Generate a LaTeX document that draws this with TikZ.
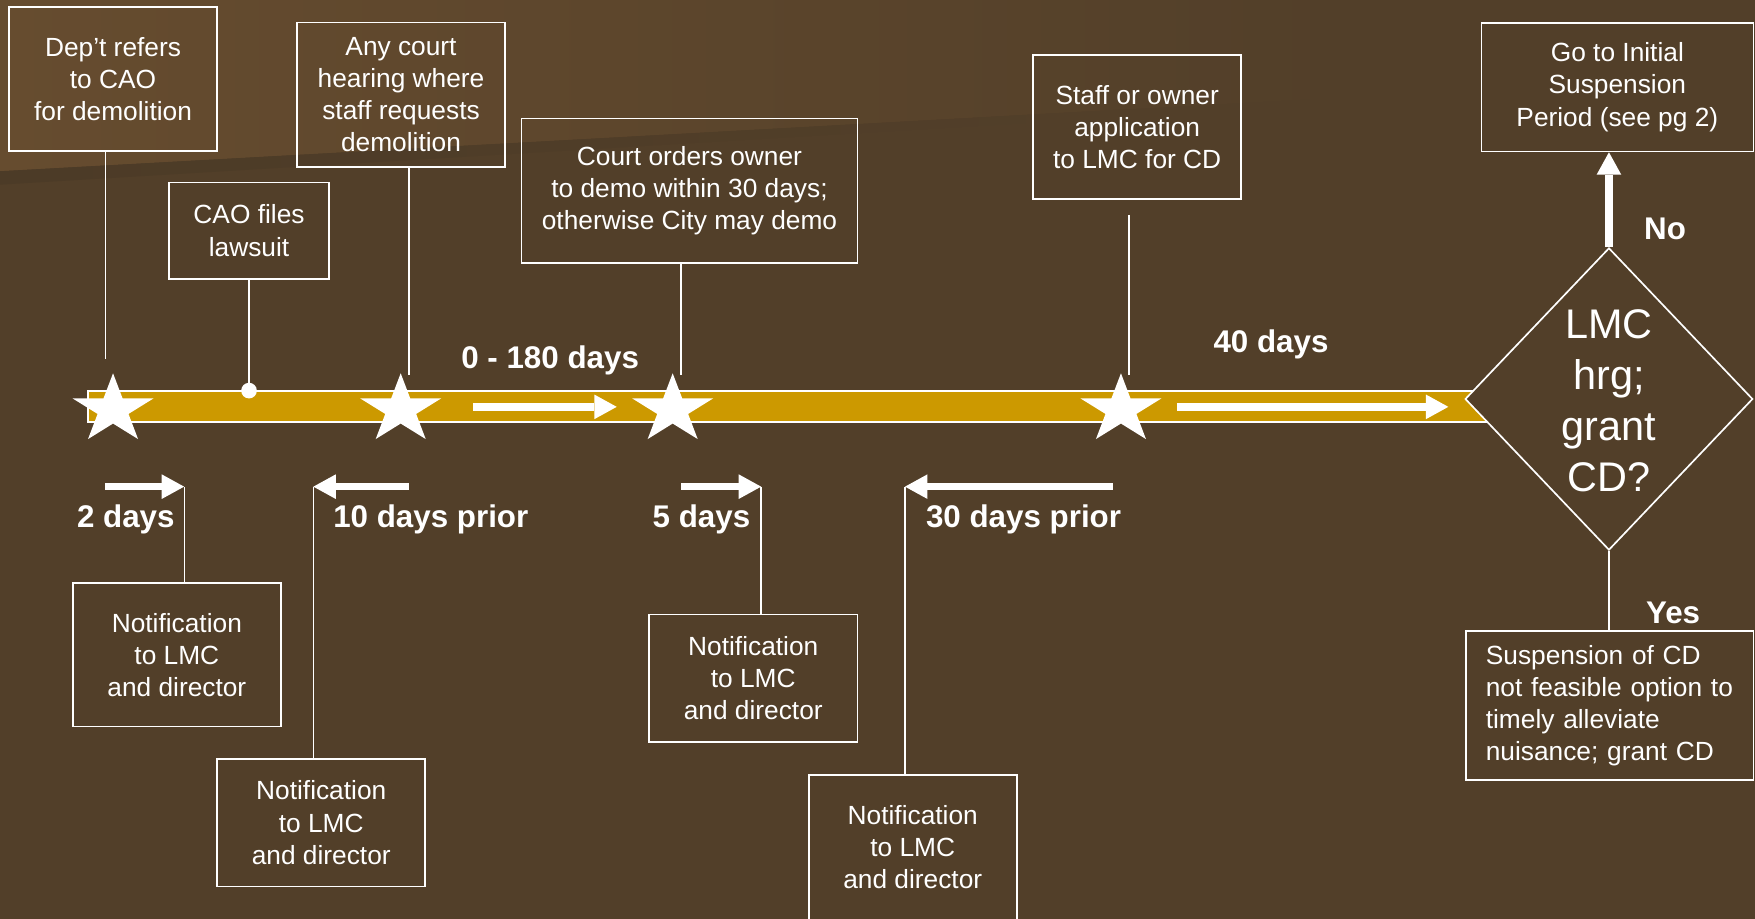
\documentclass[tikz,border=0pt]{standalone}
\usepackage{fontspec}
\setmainfont{Liberation Sans}
\usepackage{tikz}
\usetikzlibrary{arrows.meta,shapes.geometric,calc}

\definecolor{bgbrown}{HTML}{523F29}
\definecolor{litebrown}{HTML}{664C2F}
\definecolor{darkbrown}{HTML}{4C3B27}
\definecolor{bargold}{HTML}{CC9900}

\begin{document}
\begin{tikzpicture}[x=1pt, y=-1pt,
    infobox/.style={draw=white, line width=1.5pt, text=white, inner sep=0pt, align=center, font=\fontsize{23.5}{28.7}\selectfont},
    decision/.style={diamond, draw=white, line width=1.5pt, fill=bgbrown, inner sep=0pt, minimum width=257pt, minimum height=270pt},
    milestone/.style={star, star points=5, star point ratio=2.618, fill=white, inner sep=0pt, minimum size=65pt, transform shape},
    dot/.style={circle, fill=white, inner sep=0pt, minimum size=14pt},
    lbl/.style={text=white, anchor=base, font=\fontsize{28}{33}\selectfont\bfseries},
    link/.style={draw=white, line width=1.1pt},
    fat/.style={draw=white, line width=6.8pt, -{Triangle[length=20pt,width=22pt,line width=0pt]}}
]
\useasboundingbox (0,0) rectangle (1568,821);
\fill[bgbrown] (0,0) rectangle (1568,821);
\shade[left color=litebrown, right color=bgbrown] (0,0) -- (1200,0) -- (1200,87) -- (0,153) -- cycle;
\shade[left color=darkbrown, right color=bgbrown] (0,153) -- (1000,98) -- (1000,105) -- (0,165) -- cycle;

\draw[white, line width=1.8pt, fill=bargold] (79,349) rectangle (1345,377);

\node[infobox, minimum width=186pt, minimum height=129pt] (dept) at (101,70.5) {Dep’t refers\\to CAO\\for demolition};
\node[infobox, minimum width=143pt, minimum height=86pt] (lawsuit) at (222.5,206) {CAO files\\lawsuit};
\node[infobox, minimum width=186pt, minimum height=129pt] (hearing) at (358.3,84.7) {Any court\\hearing where\\staff requests\\demolition};
\node[infobox, minimum width=300pt, minimum height=129pt] (order) at (616,170.5) {Court orders owner\\to demo within 30 days;\\otherwise City may demo};
\node[infobox, minimum width=186pt, minimum height=129pt] (apply) at (1016,113.5) {Staff or owner\\application\\to LMC for CD};
\node[infobox, minimum width=243pt, minimum height=115pt] (initial) at (1445,77.8) {Go to Initial\\Suspension\\Period (see pg 2)};

\node[decision] (lmc) at (1437.5,356.5) {};
\node[infobox, draw=none, font=\fontsize{37}{45.6}\selectfont] (lmctext) at (1437.5,358) {LMC\\hrg;\\grant\\CD?};
\node[infobox, minimum width=257pt, minimum height=133pt, align=left, text width=221pt] (grant) at (1438,630.5) {Suspension of CD\\not feasible option to\\timely alleviate\\nuisance; grant CD};

\node[infobox, minimum width=186pt, minimum height=128pt] (note1) at (158,585) {Notification\\to LMC\\and director};
\node[infobox, minimum width=186pt, minimum height=114pt] (note2) at (287,735) {Notification\\to LMC\\and director};
\node[infobox, minimum width=186pt, minimum height=114pt] (note3) at (673,606) {Notification\\to LMC\\and director};
\node[infobox, minimum width=186pt, minimum height=129pt] (note4) at (815.5,757) {Notification\\to LMC\\and director};

\foreach \sx/\sn in {101/star1, 358/star2, 601/star3, 1001.5/star4}{
  \begin{scope}[shift={(\sx,366)}, xscale=1.17]
    \node[milestone] (\sn) at (0,0) {};
  \end{scope}
}
\node[dot] (filed) at (222.5,349) {};

\coordinate (deptend) at (94,321);
\coordinate (hearend) at (365.4,335);
\coordinate (orderend) at (608.4,335);
\coordinate (applytop) at (1008.6,192);
\coordinate (applyend) at (1008.6,335);
\draw[link] (dept.south -| deptend) -- (deptend);
\draw[link] (lawsuit) -- (filed);
\draw[link] (hearing.south -| hearend) -- (hearend);
\draw[link] (order.south -| orderend) -- (orderend);
\draw[link] (applytop) -- (applyend);

\coordinate (span1a) at (422.5,363.5);
\coordinate (span1b) at (551,363.5);
\coordinate (span2a) at (1051.5,363.5);
\coordinate (span2b) at (1294,363.5);
\draw[fat] (span1a) -- (span1b);
\draw[fat] (span2a) -- (span2b);
\node[lbl] (span1lbl) at (491.5,328.8) {0 - 180 days};
\node[lbl] (span2lbl) at (1135.6,314.8) {40 days};

\coordinate (n1a) at (94,434.8);
\coordinate (n1b) at (164.5,434.8);
\coordinate (n2a) at (365.4,434.8);
\coordinate (n2b) at (280,434.8);
\coordinate (n3a) at (608.5,434.8);
\coordinate (n3b) at (680,434.8);
\coordinate (n4a) at (994,434.8);
\coordinate (n4b) at (808.6,434.8);
\draw[fat] (n1a) -- (n1b);
\draw[fat] (n2a) -- (n2b);
\draw[fat] (n3a) -- (n3b);
\draw[fat] (n4a) -- (n4b);
\draw[link] (n1b) -- (note1.north -| n1b);
\draw[link] (n2b) -- (note2.north -| n2b);
\draw[link] (n3b) -- (note3.north -| n3b);
\draw[link] (n4b) -- (note4.north -| n4b);
\node[lbl] (l2) at (112.4,471.7) {2 days};
\node[lbl] (l10) at (384.9,471.7) {10 days prior};
\node[lbl] (l5) at (626.7,471.7) {5 days};
\node[lbl] (l30) at (914.5,471.7) {30 days prior};

\draw[fat] (lmc.north) -- (lmc.north |- initial.south);
\draw[link] (lmc.south) -- (lmc.south |- grant.north);
\node[lbl] (nolbl) at (1487.6,213.8) {No};
\node[lbl] (yeslbl) at (1494.8,556.9) {Yes};
\end{tikzpicture}
\end{document}
